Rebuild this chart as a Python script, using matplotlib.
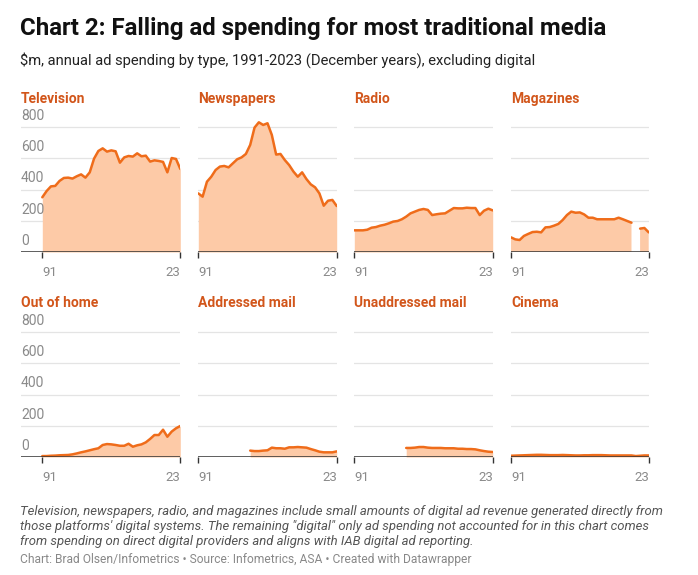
import numpy as np
import matplotlib
matplotlib.use("Agg")
import matplotlib.pyplot as plt

plt.rcParams['font.family'] = ['Roboto', 'DejaVu Sans']

years = np.arange(1991, 2024)
nan = np.nan

television = [351, 391, 421, 424, 456, 475, 477, 471, 486, 498, 477, 511, 599, 648, 665, 644,
              652, 646, 573, 607, 616, 612, 633, 614, 618, 580, 588, 584, 578, 511, 603, 597, 533]
newspapers = [376, 355, 451, 483, 526, 548, 552, 543, 569, 595, 607, 629, 687, 798, 832, 815,
              826, 751, 625, 629, 590, 558, 516, 483, 511, 468, 434, 415, 376, 297, 329, 334, 295]
radio = [139, 139, 139, 143, 156, 160, 169, 175, 184, 195, 199, 210, 227, 248, 259, 270,
         276, 270, 237, 242, 246, 248, 265, 282, 280, 280, 284, 282, 282, 237, 265, 278, 267]
magazines = [94, 81, 77, 103, 116, 128, 130, 126, 158, 160, 169, 180, 205, 237, 259, 252,
             254, 241, 220, 220, 210, 210, 210, 210, 210, 220, 210, 199, 188, nan, 150, 154, 126]
out_of_home = [6, 6, 8, 9, 11, 12, 13, 17, 23, 30, 36, 43, 50, 56, 77, 83,
               81, 77, 72, 72, 85, 66, 75, 81, 94, 116, 141, 141, 175, 130, 163, 184, 199]
addressed_mail = [nan] * 12 + [41, 38, 38, 41, 43, 60, 56, 56, 53, 62, 62, 64, 62, 60, 51,
                               43, 34, 30, 30, 30, 36]
unaddressed_mail = [nan] * 12 + [58, 58, 60, 64, 64, 60, 58, 58, 58, 56, 56, 56, 53, 53, 51,
                                 51, 49, 43, 38, 34, 32]
cinema = [8, 9, 10, 11, 12, 13, 14, 14, 13, 12, 12, 12, 13, 12, 11, 10,
          10, 11, 11, 12, 12, 12, 11, 10, 10, 10, 10, 10, 10, 6, 8, 10, 10]

panel_titles = ["Television", "Newspapers", "Radio", "Magazines",
                "Out of home", "Addressed mail", "Unaddressed mail", "Cinema"]
series = [television, newspapers, radio, magazines,
          out_of_home, addressed_mail, unaddressed_mail, cinema]
y_ticks = [0, 200, 400, 600, 800]
x_tick_labels = ["91", "23"]

W, H = 698, 575
fig = plt.figure(figsize=(W / 100, H / 100), dpi=100)

LINE = "#ef6c1a"
FILL = "#fdcaa7"
TITLE_C = "#d2561b"
GRID = "#e4e4e4"
TXT_GRAY = "#8a8a8a"

# column data extents (px): x of 1991 and 2023
cols = [(42.3, 180.3), (198.3, 336.7), (354.3, 492.7), (511.0, 648.7)]
rows_base = [252.0, 457.0]
px_per_800 = 124.7
ytop = 850
title_x = [21, 198, 354, 511]
title_base = [103, 307]

for i, (name, vals) in enumerate(zip(panel_titles, series)):
    r, c = divmod(i, 4)
    x0, x1 = cols[c]
    ppy = (x1 - x0) / 32.0
    left_px = 21.0 if c == 0 else x0
    xmin = 1991 - (x0 - left_px) / ppy
    h_px = px_per_800 * ytop / 800
    base = rows_base[r]
    ax = fig.add_axes([left_px / W, (H - base) / H, (x1 - left_px) / W, h_px / H])
    ax.set_xlim(xmin, 2023)
    ax.set_ylim(0, ytop)
    for s in ax.spines.values():
        s.set_visible(False)
    for g in y_ticks[1:]:
        ax.axhline(g, color=GRID, lw=0.9, zorder=0)
    v = np.array(vals, dtype=float)
    ax.fill_between(years, 0, v, color=FILL, lw=0, zorder=1)
    ax.plot(years, v, color=LINE, lw=1.8, zorder=3, solid_capstyle='round',
            solid_joinstyle='round')
    ax.axhline(0, color="#333333", lw=1.1, zorder=4)
    ax.set_yticks([])
    ax.set_xticks([1991, 2023])
    ax.set_xticklabels(x_tick_labels)
    ax.tick_params(axis='x', length=4, width=1, color="#333333", pad=6,
                   labelsize=9.5, labelcolor=TXT_GRAY)
    lbls = ax.get_xticklabels()
    lbls[0].set_horizontalalignment('left')
    lbls[1].set_horizontalalignment('right')
    if c == 0:
        for g in y_ticks:
            ax.annotate(str(g), xy=(0, g), xycoords=ax.get_yaxis_transform(),
                        xytext=(0, 3), textcoords='offset points',
                        ha='left', va='bottom', fontsize=10, color=TXT_GRAY)
    fig.text(title_x[c] / W, 1 - title_base[r] / H, name, fontsize=10,
             fontweight='bold', color=TITLE_C, va='baseline', ha='left')

fig.text(20 / W, 1 - 35 / H, "Chart 2: Falling ad spending for most traditional media",
         fontsize=17.3, fontweight='bold', color="#111111", va='baseline', ha='left')
fig.text(20 / W, 1 - 65 / H,
         "$m, annual ad spending by type, 1991-2023 (December years), excluding digital",
         fontsize=10.6, color="#222222", va='baseline', ha='left')

notes = ["Television, newspapers, radio, and magazines include small amounts of digital ad revenue generated directly from",
         "those platforms' digital systems. The remaining \"digital\" only ad spending not accounted for in this chart comes",
         "from spending on direct digital providers and aligns with IAB digital ad reporting."]
for k, line in enumerate(notes):
    fig.text(20 / W, 1 - (515 + 15 * k) / H, line, fontsize=9.45, style='italic',
             color="#555555", va='baseline', ha='left')
fig.text(20 / W, 1 - 563 / H,
         "Chart: Brad Olsen/Infometrics \u2022 Source: Infometrics, ASA \u2022 Created with Datawrapper",
         fontsize=8.65, color="#888888", va='baseline', ha='left')

fig.savefig("out.png", dpi=100)
